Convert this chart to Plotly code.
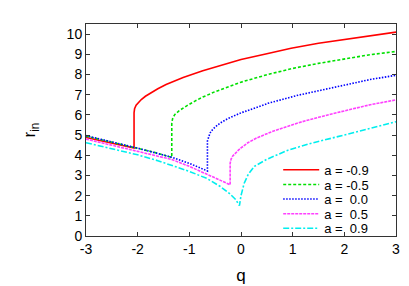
import plotly.graph_objects as go

# ---- data ----
labels = ["a = -0.9", "a = -0.5", "a =\u00a0\u00a00.0", "a =\u00a0\u00a00.5", "a =\u00a0\u00a00.9"]

q_m09 = [-3, -2.5, -2.07, -2.07, -2.06, -2.03, -1.98, -1.93, -1.85, -1.77, -1.61, -1.45, -1.12, -0.74, -0.25, 0.0, 0.5, 0.97, 1.5, 1.94, 2.5, 3.0]
r_m09 = [4.88, 4.62, 4.36, 6.1, 6.3, 6.48, 6.64, 6.76, 6.92, 7.05, 7.29, 7.5, 7.85, 8.18, 8.56, 8.74, 9.03, 9.3, 9.55, 9.72, 9.92, 10.1]

q_m05 = [-3, -2.5, -2.07, -1.7, -1.34, -1.34, -1.32, -1.28, -1.2, -1.1, -1.03, -0.9, -0.74, -0.5, -0.25, 0.0, 0.52, 1.0, 1.5, 2.07, 2.5, 3.0]
r_m05 = [4.95, 4.65, 4.4, 4.16, 3.89, 5.6, 5.85, 6.02, 6.2, 6.38, 6.48, 6.67, 6.88, 7.15, 7.4, 7.62, 8.0, 8.3, 8.55, 8.8, 8.98, 9.14]

q_00 = [-3, -2.5, -2.0, -1.5, -1.34, -1.0, -0.65, -0.65, -0.63, -0.6, -0.55, -0.5, -0.4, -0.25, 0.0, 0.26, 0.52, 1.1, 1.5, 2.07, 2.5, 3.0]
r_00 = [4.97, 4.67, 4.35, 4.01, 3.9, 3.6, 3.22, 4.7, 4.92, 5.1, 5.27, 5.4, 5.6, 5.82, 6.1, 6.35, 6.57, 6.97, 7.2, 7.52, 7.75, 7.96]

q_05 = [-3, -2.5, -2.0, -1.34, -1.0, -0.65, -0.21, -0.21, -0.19, -0.16, -0.12, -0.05, 0.0, 0.14, 0.3, 0.59, 1.1, 1.5, 2.07, 2.5, 3.0]
r_05 = [4.8, 4.5, 4.18, 3.79, 3.45, 3.05, 2.54, 3.6, 3.82, 3.96, 4.08, 4.25, 4.36, 4.63, 4.85, 5.16, 5.6, 5.88, 6.24, 6.5, 6.74]

q_09 = [-3, -2.5, -2.0, -1.61, -1.0, -0.66, -0.4, -0.22, -0.1, -0.03, 0.0, 0.06, 0.14, 0.26, 0.5, 0.91, 1.3, 2.07, 3.0]
r_09 = [4.62, 4.33, 4.02, 3.73, 3.2, 2.85, 2.45, 2.1, 1.8, 1.5, 2.0, 2.6, 3.05, 3.45, 3.8, 4.25, 4.55, 5.05, 5.66]

x_tick_vals = [-3, -2, -1, 0, 1, 2, 3]
x_tick_text = ["-3", "-2", "-1", "0", "1", "2", "3"]
y_tick_vals = [0, 1, 2, 3, 4, 5, 6, 7, 8, 9, 10]
y_tick_text = ["0", "1", "2", "3", "4", "5", "6", "7", "8", "9", "10"]

series = [
    (q_m09, r_m09, "#ff0000", "solid"),
    (q_m05, r_m05, "#00e000", "3px,2px"),
    (q_00, r_00, "#0000ff", "1.5px,1.5px"),
    (q_05, r_05, "#ff40ff", "3px,1px"),
    (q_09, r_09, "#00eeee", "6px,2px,2px,2px"),
]

# legend row positions (paper y) for gnuplot-like tight key
legend_rows = [0.3125, 0.243, 0.174, 0.105, 0.036]

font = dict(family="Liberation Sans, Arial, sans-serif", size=14, color="black")
fig = go.Figure()
layout_legends = {}
for i, ((q, r, col, dash), name) in enumerate(zip(series, labels)):
    key = "legend" if i == 0 else f"legend{i+1}"
    fig.add_trace(go.Scatter(x=q, y=r, mode="lines", name=name, legend=key,
                             line=dict(color=col, width=1.6, dash=dash)))
    layout_legends[key] = dict(x=0.62, y=legend_rows[i], xanchor="left", yanchor="middle",
                               bgcolor="rgba(0,0,0,0)", font=dict(size=13),
                               itemwidth=36, borderwidth=0)

fig.update_layout(
    width=409, height=286,
    margin=dict(l=78, r=21, t=16, b=46),
    paper_bgcolor="white", plot_bgcolor="white",
    font=font,
    showlegend=True,
    **layout_legends,
)
axis_common = dict(showline=True, linecolor="#333", linewidth=1, mirror="ticks",
                   ticks="inside", ticklen=4, tickcolor="#333", showgrid=False,
                   zeroline=False)
fig.update_xaxes(range=[-3, 3], tickvals=x_tick_vals, ticktext=x_tick_text,
                 title=dict(text="q", standoff=13), **axis_common)
fig.update_yaxes(range=[0, 10.5], tickvals=y_tick_vals, ticktext=y_tick_text,
                 title=dict(text="r<sub>in</sub>", standoff=26), **axis_common)

fig.write_html("out.html")
